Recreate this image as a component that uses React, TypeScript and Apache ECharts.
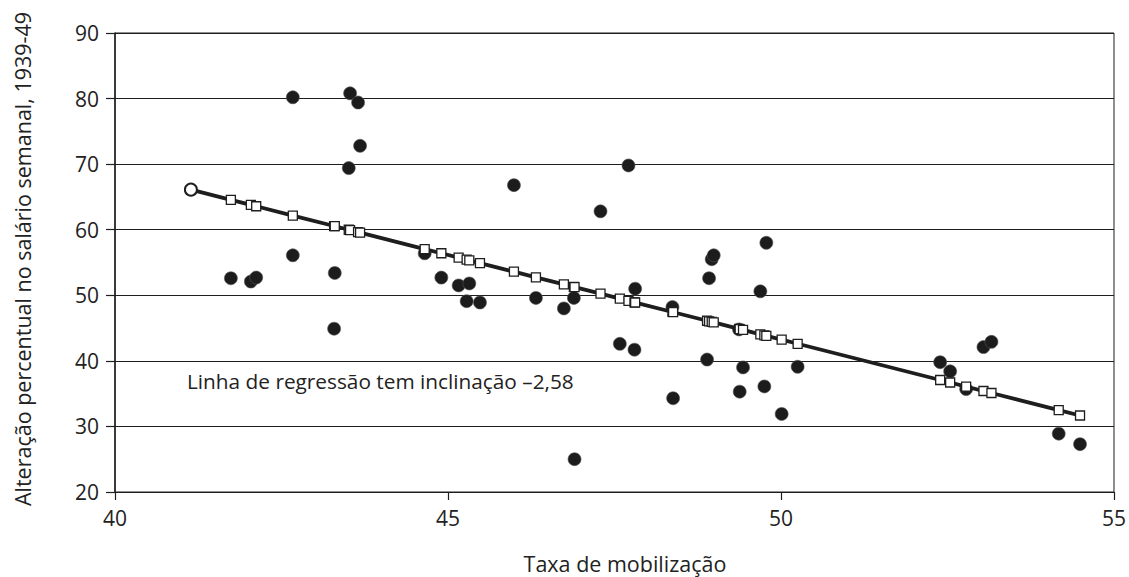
import { useEffect, useRef } from "react";
import * as echarts from "echarts";

// Taxa de mobilização (x) and wage change 1939-49 (y), one pair per state
const mobilizationRate = [
  42.67, 43.53, 43.65, 43.68, 43.51, 42.67, 41.74, 42.04, 42.12, 43.3,
  43.29, 44.65, 44.9, 45.16, 45.32, 45.28, 45.48, 46.32, 46.74, 46.89,
  46.9, 47.81, 47.58, 47.8, 48.37, 48.38, 48.89, 48.92, 48.96, 48.99,
  49.43, 49.38, 49.37, 49.75, 50.01, 49.78, 49.69, 45.99, 47.71, 47.29,
  50.25, 52.39, 52.54, 52.78, 53.04, 53.16, 54.17, 54.49,
];
const wageChange = [
  80.2, 80.8, 79.4, 72.8, 69.4, 56.1, 52.6, 52.1, 52.7, 53.4,
  44.9, 56.4, 52.7, 51.5, 51.8, 49.1, 48.9, 49.6, 48.0, 49.6,
  25.0, 51.0, 42.6, 41.7, 48.2, 34.3, 40.2, 52.6, 55.5, 56.1,
  39.0, 35.3, 44.8, 36.1, 31.9, 58.0, 50.6, 66.8, 69.8, 62.8,
  39.1, 39.8, 38.4, 35.7, 42.1, 42.9, 28.9, 27.3,
];

// Regression line: slope as printed, and its left end point
const slope = -2.58;
const intercept = 172.25;
const lineStartX = 41.14;

const xMin = 40;
const xMax = 55;
const xStep = 5;
const yMin = 20;
const yMax = 90;
const yStep = 10;

const xTitle = "Taxa de mobilização";
const yTitle = "Alteração percentual no salário semanal, 1939-49";
const note = "Linha de regressão tem inclinação \u20132,58";

const FONT = "'Open Sans', 'Noto Sans', sans-serif";
const INK = "#1e1e1e";

export default function App() {
  const ref = useRef<HTMLDivElement>(null);

  useEffect(() => {
    if (!ref.current) return;
    const chart = echarts.init(ref.current, undefined, { renderer: "svg" });

    const points = mobilizationRate.map((x, i) => [x, wageChange[i]]);
    const fittedX = [lineStartX, ...Array.from(new Set(mobilizationRate)).sort((a, b) => a - b)];
    const fitted = fittedX.map((x, i) => {
      const value = [x, intercept + slope * x];
      return i === 0
        ? { value, symbol: "circle", symbolSize: 12, itemStyle: { borderWidth: 2 } }
        : { value };
    });

    chart.setOption({
      animation: false,
      grid: {
        left: 115,
        right: 14,
        top: 33,
        bottom: 85,
        show: true,
        borderColor: INK,
        borderWidth: 1,
        backgroundColor: "transparent",
      },
      xAxis: {
        type: "value",
        min: xMin,
        max: xMax,
        interval: xStep,
        axisLine: { show: true, lineStyle: { color: INK, width: 1.2 } },
        axisTick: { show: true, inside: false, length: 8, lineStyle: { color: INK, width: 1.2 } },
        axisLabel: { fontFamily: FONT, fontSize: 21, color: "#222", margin: 15 },
        splitLine: { show: false },
      },
      yAxis: {
        type: "value",
        min: yMin,
        max: yMax,
        interval: yStep,
        axisLine: { show: true, lineStyle: { color: INK, width: 1.5 } },
        axisTick: { show: true, inside: false, length: 9, lineStyle: { color: INK, width: 1.2 } },
        axisLabel: { fontFamily: FONT, fontSize: 21, color: "#222", margin: 16 },
        splitLine: { show: true, lineStyle: { color: INK, width: 1.1 } },
      },
      series: [
        {
          type: "scatter",
          data: points,
          symbol: "circle",
          symbolSize: 13,
          itemStyle: { color: "#1c1c1c", borderColor: "#555", borderWidth: 0.6, opacity: 1 },
          z: 2,
        },
        {
          type: "line",
          data: fitted,
          symbol: "rect",
          symbolSize: 9,
          showSymbol: true,
          lineStyle: { color: INK, width: 3.8 },
          itemStyle: { color: "#ffffff", borderColor: INK, borderWidth: 1.3 },
          z: 3,
        },
      ],
      graphic: [
        {
          type: "text",
          x: 187,
          y: 381,
          style: {
            text: note,
            fontFamily: FONT,
            fontSize: 20.8,
            fill: "#222",
            verticalAlign: "middle",
            align: "left",
          },
        },
        {
          type: "text",
          x: 625,
          y: 563,
          style: {
            text: xTitle,
            fontFamily: FONT,
            fontSize: 21.5,
            fill: "#222",
            verticalAlign: "middle",
            align: "center",
          },
        },
        {
          type: "text",
          x: 22,
          y: 259,
          rotation: Math.PI / 2,
          style: {
            text: yTitle,
            fontFamily: FONT,
            fontSize: 21.5,
            fill: "#222",
            verticalAlign: "middle",
            align: "center",
          },
        },
      ],
    });

    return () => chart.dispose();
  }, []);

  return (
    <div
      ref={ref}
      style={{ position: "absolute", left: 0, top: 0, width: 1129, height: 577, background: "#fff" }}
    />
  );
}
